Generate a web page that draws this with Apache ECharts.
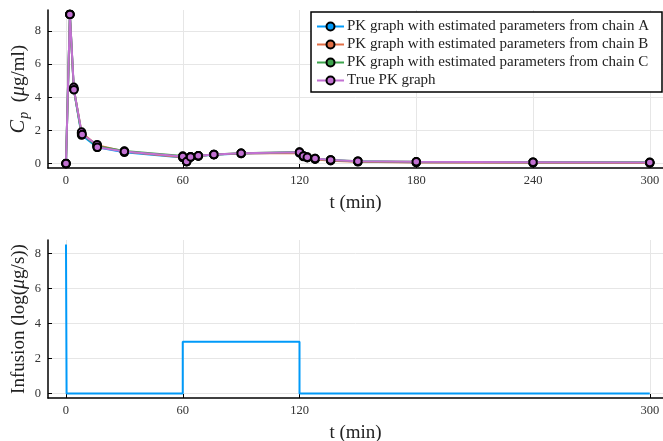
<!DOCTYPE html>
<html>
<head>
<meta charset="utf-8">
<script src="https://cdn.jsdelivr.net/npm/echarts@6/dist/echarts.min.js"></script>
<style>html,body{margin:0;padding:0;background:#fff}#c{width:663px;height:441px}</style>
</head>
<body>
<div id="c"></div>
<script>
// ---- data ----
const seriesNames = [
  'PK graph with estimated parameters from chain A',
  'PK graph with estimated parameters from chain B',
  'PK graph with estimated parameters from chain C',
  'True PK graph'
];
const sampleTimes = [0, 2, 4, 8, 16, 30, 60, 62, 64, 68, 76, 90, 120, 122, 124, 128, 136, 150, 180, 240, 300];
const chainA = [0, 9.0, 4.5, 1.72, 0.98, 0.68, 0.36, 0.11, 0.38, 0.45, 0.53, 0.60, 0.66, 0.44, 0.37, 0.28, 0.20, 0.12, 0.08, 0.06, 0.05];
const chainB = [0, 9.0, 4.5, 1.86, 1.10, 0.73, 0.38, 0.12, 0.39, 0.46, 0.54, 0.61, 0.64, 0.42, 0.35, 0.26, 0.17, 0.10, 0.06, 0.04, 0.03];
const chainC = [0, 9.0, 4.5, 1.80, 1.05, 0.75, 0.45, 0.14, 0.41, 0.47, 0.55, 0.62, 0.69, 0.46, 0.39, 0.30, 0.22, 0.14, 0.10, 0.08, 0.07];
const trueTimes = [0, 2, 4, 4.1, 8, 8.3, 16, 16.1, 30, 60, 62, 64, 68, 76, 90, 120, 122, 124, 128, 136, 150, 180, 240, 300];
const trueValues = [0, 9.0, 4.6, 4.45, 1.9, 1.75, 1.14, 0.98, 0.72, 0.42, 0.12, 0.40, 0.47, 0.54, 0.62, 0.68, 0.46, 0.38, 0.30, 0.22, 0.14, 0.10, 0.08, 0.06];
const infusionTimes = [0, 0.3, 60, 60, 120, 120, 300];
const infusionValues = [8.5, 0, 0, 2.95, 2.95, 0, 0];
const topXTicks = [0, 60, 120, 180, 240, 300];
const bottomXTicks = [0, 60, 120, 300];
const yTicks = [0, 2, 4, 6, 8];

const colors = ['#009af9', '#e26f46', '#3da44d', '#c271d2'];
const FONT = 'Liberation Serif';

function pairs(xs, ys) { return xs.map((x, i) => [x, ys[i]]); }

function xAxisDef(gridIndex, ticks) {
  return {
    type: 'value', gridIndex, min: -9.25, max: 306.8,
    name: 't (min)', nameLocation: 'middle', nameGap: 26, nameMoveOverlap: false,
    nameTextStyle: { fontFamily: FONT, fontSize: 19, color: '#222' },
    axisLine: { show: true, onZero: false, lineStyle: { color: '#000', width: 1.5 } },
    axisTick: { show: true, inside: true, length: 4, customValues: ticks, lineStyle: { color: '#000', width: 1 } },
    axisLabel: { customValues: ticks, fontFamily: FONT, fontSize: 12.5, color: '#333', margin: 6 },
    splitLine: { show: true, lineStyle: { color: '#e6e6e6', width: 1 } }
  };
}
function yAxisDef(gridIndex, min, max, name, gap) {
  return {
    type: 'value', gridIndex, min, max,
    name, nameLocation: 'middle', nameGap: gap, nameMoveOverlap: false,
    nameTextStyle: {
      fontFamily: FONT, fontSize: 19, color: '#222',
      rich: {
        it: { fontFamily: FONT, fontSize: 20, fontStyle: 'italic', color: '#222' },
        n: { fontFamily: FONT, fontSize: 19, color: '#222' },
        sub: { fontFamily: FONT, fontSize: 14, fontStyle: 'italic', color: '#222', padding: [10, 0, 0, 1] }
      }
    },
    axisLine: { show: true, onZero: false, lineStyle: { color: '#000', width: 1.5 } },
    axisTick: { show: true, inside: true, length: 4, customValues: yTicks, lineStyle: { color: '#000', width: 1 } },
    axisLabel: { customValues: yTicks, fontFamily: FONT, fontSize: 12.5, color: '#333', margin: 7 },
    splitLine: { show: true, lineStyle: { color: '#e6e6e6', width: 1 } }
  };
}

const chainData = [chainA, chainB, chainC];
const series = chainData.map((vals, i) => ({
  name: seriesNames[i], type: 'line', xAxisIndex: 0, yAxisIndex: 0,
  data: pairs(sampleTimes, vals),
  symbol: 'circle', symbolSize: 7.5, showAllSymbol: true,
  lineStyle: { color: colors[i], width: 2 },
  itemStyle: { color: colors[i], borderColor: '#000', borderWidth: 2 },
  emphasis: { disabled: true }, animation: false
}));
series.push({
  name: seriesNames[3], type: 'line', xAxisIndex: 0, yAxisIndex: 0,
  data: pairs(trueTimes, trueValues),
  symbol: 'circle', symbolSize: 7.5, showAllSymbol: true,
  lineStyle: { color: colors[3], width: 2 },
  itemStyle: { color: colors[3], borderColor: '#000', borderWidth: 2 },
  emphasis: { disabled: true }, animation: false, z: 5
});
series.push({
  name: 'infusion', type: 'line', xAxisIndex: 1, yAxisIndex: 1,
  data: pairs(infusionTimes, infusionValues),
  symbol: 'none', lineStyle: { color: colors[0], width: 2 },
  emphasis: { disabled: true }, animation: false
});

const chart = echarts.init(document.getElementById('c'), null, { renderer: 'canvas' });
chart.setOption({
  backgroundColor: '#fff',
  animation: false,
  grid: [
    { left: 48, right: 0, top: 10, height: 158, containLabel: false, outerBoundsMode: 'none' },
    { left: 48, right: 0, top: 240, height: 158, containLabel: false, outerBoundsMode: 'none' }
  ],
  legend: {
    data: seriesNames, orient: 'vertical', right: 1, top: 12,
    borderColor: '#000', borderWidth: 1.5, padding: [7, 13, 4, 5],
    itemGap: 3, itemWidth: 27, itemHeight: 10,
    textStyle: { fontFamily: FONT, fontSize: 15, color: '#222', padding: [0, 0, 0, -2] },
    backgroundColor: '#fff'
  },
  xAxis: [xAxisDef(0, topXTicks), xAxisDef(1, bottomXTicks)],
  yAxis: [
    yAxisDef(0, -0.27, 9.27, '{it|C}{sub|p}{n|  (}{it|μ}{n|g/ml)}', 17),
    yAxisDef(1, -0.255, 8.755, '{n|Infusion (log(}{it|μ}{n|g/s))}', 19)
  ],
  series
});
</script>
</body>
</html>
